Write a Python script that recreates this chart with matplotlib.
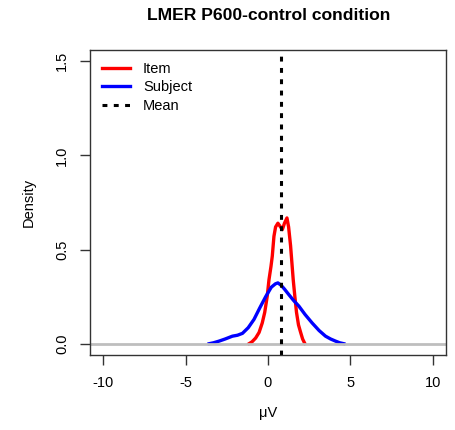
import matplotlib
matplotlib.use("Agg")
import matplotlib.pyplot as plt

plt.rcParams['font.family'] = ['Liberation Sans', 'DejaVu Sans']

title = "LMER P600-control condition"
xlabel = "\u03bcV"
ylabel = "Density"

item_x = [-1.15, -0.97, -0.75, -0.54, -0.35, -0.2, -0.05, 0.06, 0.18, 0.26, 0.36, 0.46, 0.6, 0.72, 0.87, 1.0, 1.15, 1.25, 1.37, 1.45, 1.53, 1.63, 1.73, 1.85, 1.98, 2.1, 2.24]
item_y = [0.0, 0.01, 0.03, 0.06, 0.11, 0.166, 0.25, 0.34, 0.41, 0.465, 0.57, 0.62, 0.64, 0.625, 0.606, 0.64, 0.668, 0.62, 0.52, 0.43, 0.34, 0.25, 0.166, 0.1, 0.06, 0.025, 0.0]

subj_x = [-3.57, -3.3, -2.96, -2.6, -2.16, -1.85, -1.55, -1.2, -0.85, -0.5, -0.14, 0.2, 0.45, 0.6, 0.8, 1.0, 1.27, 1.55, 1.87, 2.25, 2.68, 3.1, 3.49, 3.8, 4.09, 4.35, 4.6]
subj_y = [0.0, 0.005, 0.014, 0.025, 0.04, 0.045, 0.055, 0.085, 0.129, 0.19, 0.25, 0.3, 0.318, 0.323, 0.31, 0.29, 0.26, 0.23, 0.2, 0.155, 0.11, 0.07, 0.04, 0.025, 0.014, 0.005, 0.0]

mean_x = 0.77

xticks = [-10, -5, 0, 5, 10]
yticks = [0.0, 0.5, 1.0, 1.5]

fig = plt.figure(figsize=(4.56, 4.30), dpi=100)
ax = fig.add_axes([90/456, 1-355/430, 356/456, 305/430])

ax.plot(item_x, item_y, color='#ff0000', lw=2.4, label='Item', solid_joinstyle='round')
ax.plot(subj_x, subj_y, color='#0000ff', lw=2.4, label='Subject', solid_joinstyle='round')
ax.axhline(0, color='#bebebe', lw=2.0)
ax.axvline(mean_x, color='black', lw=2.2, linestyle=(0, (1.6, 2.1)), label='Mean')

ax.set_xlim(-10.8, 10.8)
ax.set_ylim(-0.06, 1.56)
ax.set_xticks(xticks)
ax.set_xticklabels([str(t) for t in xticks])
ax.set_yticks(yticks)
ax.set_yticklabels([f"{t:.1f}" for t in yticks], rotation=90, va='center')
ax.tick_params(direction='out', length=7, width=1, labelsize=10.5, pad=8, color='#333333')
for s in ax.spines.values():
    s.set_linewidth(1.0)
    s.set_color('#333333')

ax.set_xlabel(xlabel, fontsize=10.5, labelpad=12)
ax.set_ylabel(ylabel, fontsize=10.5, labelpad=14)
fig.text(269/456, 1-15/430, title, fontsize=12.6, fontweight='bold', ha='center', va='center')

ax.legend(loc='upper left', bbox_to_anchor=(12/356, 1-12/305), frameon=False, fontsize=10.5,
          handlelength=1.92, borderaxespad=0.0, borderpad=0.0,
          labelspacing=0.3, handletextpad=0.9)

fig.savefig('out.png', dpi=100)
